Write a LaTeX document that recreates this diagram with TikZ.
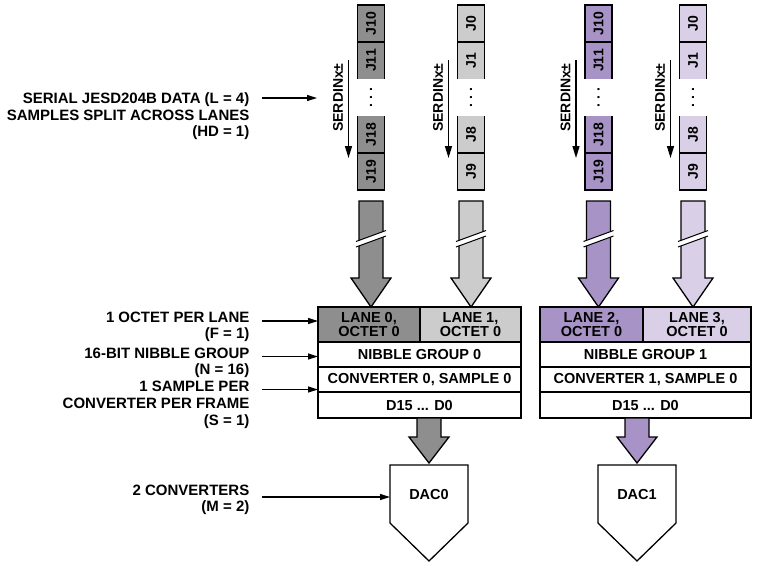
\documentclass[tikz,border=0pt]{standalone}
\usepackage{fontspec}
\setmainfont{Liberation Sans}
\usetikzlibrary{arrows.meta,positioning,calc}
\definecolor{laneGrayDk}{HTML}{8E8E8E}
\definecolor{laneGrayLt}{HTML}{CCCCCC}
\definecolor{lanePurpDk}{HTML}{A793C6}
\definecolor{lanePurpLt}{HTML}{D9D0E7}
\tikzset{
  lane cell/.style={minimum width=27pt,minimum height=37pt,inner sep=0pt,outer sep=0pt,
    font=\bfseries\fontsize{14}{14}\selectfont},
  serdin text/.style={inner sep=0pt,font=\bfseries\fontsize{14}{15}\selectfont},
  serdin arrow/.style={-{Triangle[length=12pt,width=7pt]},line width=1.3pt},
  frame row/.style={draw,line width=1.3pt,fill=white,inner sep=0pt,outer sep=0pt,
    minimum height=25pt,align=center,font=\bfseries\fontsize{14.5}{14}\selectfont},
  side note/.style={anchor=north east,align=right,inner sep=0pt,
    font=\bfseries\fontsize{15}{16.7}\selectfont},
  note arrow/.style={-{Triangle[length=10pt,width=6pt]},line width=1.3pt},
  fat arrow/.style={draw,line width=1.3pt,line join=miter},
  dac box/.style={minimum width=78pt,minimum height=58pt,inner sep=0pt,outer sep=0pt,
    font=\bfseries\fontsize{14.5}{15}\selectfont}
}

\begin{document}
\begin{tikzpicture}[x=1pt,y=-1pt,line width=1.3pt]
\useasboundingbox (0,0) rectangle (765,563);

% frame blocks
\node[frame row,fill=laneGrayDk,minimum width=102pt,minimum height=35pt] (l0) at (369,324.5) {LANE 0,\\OCTET 0};
\node[frame row,fill=laneGrayLt,minimum width=101pt,minimum height=35pt,right=0pt of l0] (l1) {LANE 1,\\OCTET 0};
\node[frame row,minimum width=203pt,below=0pt of l0.south west,anchor=north west] (ng0) {NIBBLE GROUP 0};
\node[frame row,minimum width=203pt,below=0pt of ng0] (cv0) {CONVERTER 0, SAMPLE 0};
\node[frame row,minimum width=203pt,minimum height=26pt,below=0pt of cv0] (d0) {D15 ... D0};

\node[frame row,fill=lanePurpDk,minimum width=103pt,minimum height=35pt] (l2) at (591.5,324.5) {LANE 2,\\OCTET 0};
\node[frame row,fill=lanePurpLt,minimum width=108pt,minimum height=35pt,right=0pt of l2] (l3) {LANE 3,\\OCTET 0};
\node[frame row,minimum width=211pt,below=0pt of l2.south west,anchor=north west] (ng1) {NIBBLE GROUP 1};
\node[frame row,minimum width=211pt,below=0pt of ng1] (cv1) {CONVERTER 1, SAMPLE 0};
\node[frame row,minimum width=211pt,minimum height=26pt,below=0pt of cv1] (d1) {D15 ... D0};

% serial lanes
\foreach \i/\cx/\col/\ja/\jb/\jc/\jd in {0/371/laneGrayDk/J10/J11/J18/J19,
    1/471/laneGrayLt/J0/J1/J8/J9, 2/598.5/lanePurpDk/J10/J11/J18/J19,
    3/693/lanePurpLt/J0/J1/J8/J9}{
  \node[lane cell,fill=\col] (c\i-1) at (\cx,23.5) {\rotatebox{90}{\ja}};
  \node[lane cell,fill=\col,below=0pt of c\i-1] (c\i-2) {\rotatebox{90}{\jb}};
  \node[lane cell,fill=white,below=0pt of c\i-2] (c\i-3) {\rotatebox{90}{.\hspace{4pt}.\hspace{4pt}.}};
  \node[lane cell,fill=\col,below=0pt of c\i-3] (c\i-4) {\rotatebox{90}{\jc}};
  \node[lane cell,fill=\col,below=0pt of c\i-4] (c\i-5) {\rotatebox{90}{\jd}};
  \draw (c\i-2.south west) -- (c\i-1.north west) -- (c\i-1.north east) -- (c\i-2.south east);
  \draw (c\i-1.south west) -- (c\i-1.south east);
  \draw (c\i-4.north west) -- (c\i-5.south west) -- (c\i-5.south east) -- (c\i-4.north east);
  \draw (c\i-5.north west) -- (c\i-5.north east);
  % SERDIN direction
  \node[serdin text,rotate=90] (t\i) at ($(c\i-3.center)+(-33,0)$) {SERDINx±};
  \coordinate (s\i-a) at ($(c\i-2.north west)+(-9,18)$);
  \coordinate (s\i-b) at ($(c\i-5.north west)+(-9,5)$);
  \draw[serdin arrow] (s\i-a) -- (s\i-b);
  % lane into frame
  \coordinate (f\i-top) at ($(c\i-5.south)+(0,11)$);
  \coordinate (f\i-tip) at (c\i-5.south |- l0.north);
  \filldraw[fat arrow,fill=\col] ($(f\i-top)+(-12,0)$) -- ($(f\i-tip)+(-12,-29)$)
    -- ($(f\i-tip)+(-20,-29)$) -- (f\i-tip) -- ($(f\i-tip)+(20,-29)$)
    -- ($(f\i-tip)+(12,-29)$) -- ($(f\i-top)+(12,0)$) -- cycle;
  \fill[white] ($(f\i-top)+(-15,40.5)$) -- ($(f\i-top)+(15,29.5)$)
    -- ($(f\i-top)+(15,35)$) -- ($(f\i-top)+(-15,46)$) -- cycle;
  \draw[line width=1pt] ($(f\i-top)+(-15,40.5)$) -- ($(f\i-top)+(15,29.5)$);
  \draw[line width=1pt] ($(f\i-top)+(-15,46)$) -- ($(f\i-top)+(15,35)$);
}

% converters
\node[dac box,text depth=-6pt] (dac0) at (429,494) {DAC0};
\node[dac box,text depth=-6pt] (dac1) at (637,494) {DAC1};
\draw (dac0.north west) -- (dac0.north east) -- (dac0.south east) -- ($(dac0.south)+(0,38)$) -- (dac0.south west) -- cycle;
\draw (dac1.north west) -- (dac1.north east) -- (dac1.south east) -- ($(dac1.south)+(0,38)$) -- (dac1.south west) -- cycle;
\foreach \k/\col in {0/laneGrayDk,1/lanePurpDk}{
  \coordinate (g\k-top) at (dac\k.north |- d\k.south);
  \coordinate (g\k-tip) at ($(dac\k.north)+(0,-2)$);
  \filldraw[fat arrow,fill=\col] ($(g\k-top)+(-12,0)$) -- ($(g\k-tip)+(-12,-26)$)
    -- ($(g\k-tip)+(-20,-26)$) -- (g\k-tip) -- ($(g\k-tip)+(20,-26)$)
    -- ($(g\k-tip)+(12,-26)$) -- ($(g\k-top)+(12,0)$) -- cycle;
}

% side notes
\node[side note] (n-serial) at (250,92) {SERIAL JESD204B DATA (L = 4)\\SAMPLES SPLIT ACROSS LANES\\(HD = 1)};
\node[side note] (n-octet) at (250,311) {1 OCTET PER LANE\\(F = 1)};
\node[side note] (n-nibble) at (250,347) {16-BIT NIBBLE GROUP\\(N = 16)};
\node[side note] (n-sample) at (250,380.5) {1 SAMPLE PER\\CONVERTER PER FRAME\\(S = 1)};
\node[side note] (n-conv) at (250,484) {2 CONVERTERS\\(M = 2)};
\coordinate (a-serial) at (317,98);
\coordinate (a-octet) at (l0.west |- 0,321);
\coordinate (a-nibble) at (ng0.west |- 0,356.5);
\coordinate (a-sample) at (cv0.west |- 0,389.5);
\coordinate (a-conv) at (dac0.west |- 0,497);
\draw[note arrow] ($(n-serial.north east)+(12,6)$) -- (a-serial);
\draw[note arrow] ($(n-octet.north east)+(12,10)$) -- (a-octet);
\draw[note arrow] ($(n-nibble.north east)+(12,9.5)$) -- (a-nibble);
\draw[note arrow] ($(n-sample.north east)+(12,9)$) -- (a-sample);
\draw[note arrow] ($(n-conv.north east)+(12,13)$) -- (a-conv);
\end{tikzpicture}
\end{document}
